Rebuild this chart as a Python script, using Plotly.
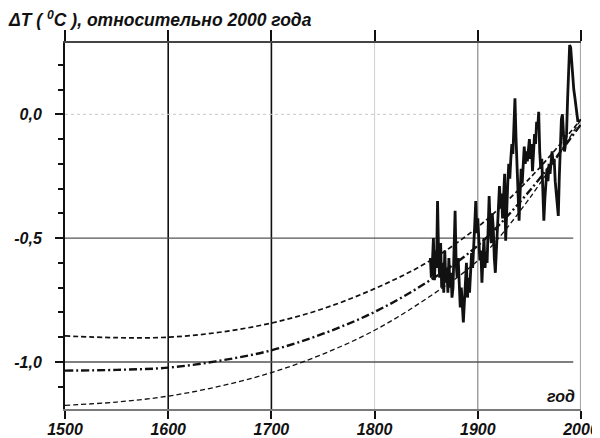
import plotly.graph_objects as go

# ---- data ----
curve_years = [1500, 1550, 1600, 1650, 1700, 1750, 1800, 1850, 1900, 1950, 2000]
upper_curve = [-0.895, -0.902, -0.900, -0.880, -0.843, -0.785, -0.704, -0.600, -0.455, -0.260, -0.020]
middle_curve = [-1.035, -1.032, -1.023, -0.995, -0.953, -0.886, -0.798, -0.680, -0.530, -0.310, -0.040]
lower_curve = [-1.175, -1.162, -1.138, -1.098, -1.043, -0.968, -0.872, -0.745, -0.590, -0.340, -0.020]

obs_years = list(range(1854, 1999))
obs_values = [
    -0.58, -0.66, -0.60, -0.50, -0.67, -0.55, -0.62, -0.35, -0.56, -0.66,  # 1854-1863
    -0.52, -0.70, -0.60, -0.72, -0.55, -0.68, -0.62, -0.72, -0.58, -0.70,  # 1864-1873
    -0.64, -0.74, -0.70, -0.55, -0.39, -0.60, -0.66, -0.58, -0.72, -0.78,  # 1874-1883
    -0.70, -0.80, -0.84, -0.76, -0.68, -0.60, -0.74, -0.66, -0.72, -0.64,  # 1884-1893
    -0.56, -0.62, -0.50, -0.45, -0.35, -0.48, -0.42, -0.52, -0.59, -0.55,  # 1894-1903
    -0.68, -0.58, -0.50, -0.62, -0.56, -0.60, -0.48, -0.33, -0.45, -0.52,  # 1904-1913
    -0.40, -0.46, -0.58, -0.64, -0.55, -0.45, -0.40, -0.29, -0.38, -0.32,  # 1914-1923
    -0.42, -0.30, -0.24, -0.51, -0.36, -0.28, -0.20, -0.26, -0.18, -0.12,  # 1924-1933
    -0.16, -0.05, 0.065, -0.09, -0.22, -0.30, -0.43, -0.32, -0.22, -0.28,  # 1934-1943
    -0.18, -0.13, -0.20, -0.15, -0.19, -0.14, -0.10, -0.18, -0.12, -0.23,  # 1944-1953
    -0.16, -0.08, -0.12, -0.03, -0.06, 0.01, -0.15, -0.22, -0.18, -0.32,   # 1954-1963
    -0.43, -0.34, -0.27, -0.22, -0.27, -0.20, -0.24, -0.17, -0.15, -0.20,  # 1964-1973
    -0.18, -0.27, -0.33, -0.38, -0.41, -0.25, -0.10, -0.02, 0.00, -0.08,   # 1974-1983
    -0.15, -0.12, -0.08, 0.06, 0.19, 0.28, 0.27, 0.21, 0.14, 0.10,         # 1984-1993
    0.07, 0.03, -0.01, -0.03, -0.02,                                       # 1994-1998
]

x_ticks = [1500, 1600, 1700, 1800, 1900, 2000]
x_tick_labels = ["1500", "1600", "1700", "1800", "1900", "2000"]
y_ticks = [0.0, -0.5, -1.0]
y_tick_labels = ["0,0", "-0,5", "-1,0"]

title_text = "ΔT ( <sup>0</sup>C ), относительно 2000 года"
x_axis_text = "год"

# ---- styles ----
FONT = "Liberation Sans"
# the page body has an 8px margin, so the figure is 8px smaller and offset
W, H = 592, 430
vgrid_colors = {1600: "#111111", 1700: "#111111", 1800: "#cfcfcf", 1900: "#8a8a8a", 2000: "#a8a8a8"}
vgrid_widths = {1600: 1.6, 1700: 1.6, 1800: 1.0, 1900: 1.2, 2000: 2.2}

fig = go.Figure()

fig.add_trace(go.Scatter(x=curve_years, y=upper_curve, mode="lines",
                         line=dict(color="#111", width=1.7, dash="5px,3px", shape="spline"),
                         showlegend=False))
fig.add_trace(go.Scatter(x=curve_years, y=middle_curve, mode="lines",
                         line=dict(color="#111", width=2.4, dash="8px,3px,2px,3px", shape="spline"),
                         showlegend=False))
fig.add_trace(go.Scatter(x=curve_years, y=lower_curve, mode="lines",
                         line=dict(color="#111", width=1.3, dash="5px,3px", shape="spline"),
                         showlegend=False))
fig.add_trace(go.Scatter(x=obs_years, y=obs_values, mode="lines",
                         line=dict(color="#111", width=2.8),
                         showlegend=False))
# carries the top axis (ticks only)
fig.add_trace(go.Scatter(x=[1500, 2000], y=[None, None], xaxis="x2", mode="lines",
                         showlegend=False, hoverinfo="skip"))

shapes = []
for xv in x_ticks[1:]:
    shapes.append(dict(type="line", xref="x", yref="paper", x0=xv, x1=xv, y0=0, y1=1,
                       line=dict(color=vgrid_colors[xv], width=vgrid_widths[xv]), layer="below"))
shapes.append(dict(type="line", xref="paper", yref="y", x0=0, x1=1, y0=0.0, y1=0.0,
                   line=dict(color="#c8c8c8", width=1, dash="dot"), layer="below"))
for yv in y_ticks[1:]:
    shapes.append(dict(type="line", xref="paper", yref="y", x0=0, x1=0.985, y0=yv, y1=yv,
                       line=dict(color="#555", width=1.4), layer="below"))

tick_font = dict(family=FONT, size=16, color="#111", weight="bold", style="italic")

fig.update_layout(
    width=W, height=H,
    margin=dict(l=57, r=19, t=35, b=29, autoexpand=False),
    paper_bgcolor="white", plot_bgcolor="white",
    shapes=shapes,
    title=dict(text=title_text, x=1 / W, xref="container", xanchor="left",
               y=1 - 12 / H, yref="container", yanchor="middle", automargin=False,
               font=dict(family=FONT, size=17.5, color="#111", weight="bold", style="italic")),
    xaxis=dict(range=[1500, 2000], tickvals=x_ticks, ticktext=x_tick_labels, automargin=False,
               showgrid=False, zeroline=False, showline=True, linecolor="#7a7a7a", linewidth=2,
               ticks="outside", ticklen=8, tickwidth=2, tickcolor="#111", tickfont=tick_font,
               ticklabelstandoff=-3),
    xaxis2=dict(range=[1500, 2000], overlaying="x", side="top", tickvals=x_ticks, automargin=False,
                showticklabels=False, showgrid=False, zeroline=False, showline=True,
                linecolor="#444", linewidth=2, ticks="outside", ticklen=11, tickwidth=2,
                tickcolor="#111"),
    yaxis=dict(range=[-1.19, 0.288], tickvals=y_ticks, ticktext=y_tick_labels, automargin=False,
               showgrid=False, zeroline=False, showline=True, linecolor="#111", linewidth=2,
               ticks="outside", ticklen=8, tickwidth=2, tickcolor="#111", tickfont=tick_font,
               ticklabelstandoff=10,
               minor=dict(ticks="outside", ticklen=5, tickwidth=1.5, tickcolor="#111",
                          dtick=0.1, tick0=0, showgrid=False)),
    annotations=[dict(text=x_axis_text, xref="paper", yref="paper", x=0.992, y=0.033,
                      xanchor="right", yanchor="middle", showarrow=False,
                      font=dict(family=FONT, size=16, color="#111", weight="bold", style="italic"))],
)

fig.write_html("out.html")
